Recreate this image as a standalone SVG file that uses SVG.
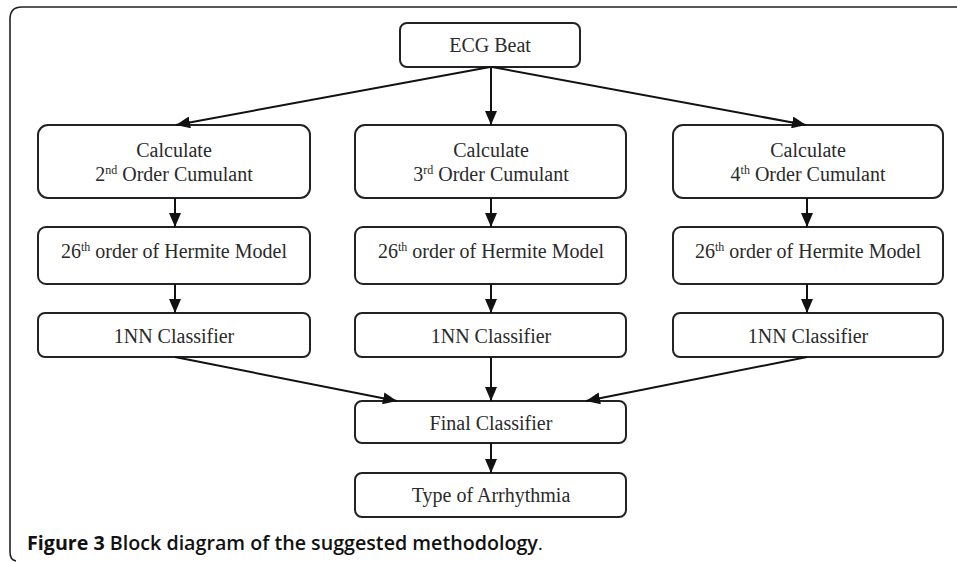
<svg xmlns="http://www.w3.org/2000/svg" width="957" height="562" viewBox="0 0 957 562">
<defs>
<marker id="ah" viewBox="0 0 14 12" refX="14" refY="6" markerWidth="14" markerHeight="12" markerUnits="userSpaceOnUse" orient="auto">
<path d="M0,0 L14,6 L0,12 z" fill="#111"/>
</marker>
<style>
.box{fill:#fff;stroke:#222;stroke-width:2}
.t{font-family:"Liberation Serif","Times New Roman",serif;font-size:20px;fill:#2a2a2a;text-anchor:middle}
.sup{font-size:12px}
.c{stroke:#111;stroke-width:2;fill:none;marker-end:url(#ah)}
.cap{font-family:"Open Sans","Liberation Sans",sans-serif;font-size:19px;fill:#111}
</style>
</defs>
<rect width="957" height="562" fill="#fff"/>
<path d="M957,7 H22 Q10,7 10,19 V552 Q10,560 16,561" fill="none" stroke="#222" stroke-width="1.6"/>

<g id="ecg"><rect class="box" x="400" y="23" width="180" height="44" rx="7"/><text class="t" x="490" y="52">ECG Beat</text></g>

<g id="cum2"><rect class="box" x="38" y="125" width="272" height="73" rx="10"/><text class="t" x="174" y="157">Calculate</text><text class="t" x="174" y="181">2<tspan class="sup" dy="-7">nd</tspan><tspan dy="7"> Order Cumulant</tspan></text></g>
<g id="cum3"><rect class="box" x="355" y="125" width="271" height="73" rx="10"/><text class="t" x="491" y="157">Calculate</text><text class="t" x="491" y="181">3<tspan class="sup" dy="-7">rd</tspan><tspan dy="7"> Order Cumulant</tspan></text></g>
<g id="cum4"><rect class="box" x="673" y="125" width="270" height="73" rx="10"/><text class="t" x="808" y="157">Calculate</text><text class="t" x="808" y="181">4<tspan class="sup" dy="-7">th</tspan><tspan dy="7"> Order Cumulant</tspan></text></g>

<g id="herm1"><rect class="box" x="38" y="227" width="272" height="57" rx="8"/><text class="t" x="174" y="258">26<tspan class="sup" dy="-7">th</tspan><tspan dy="7"> order of Hermite Model</tspan></text></g>
<g id="herm2"><rect class="box" x="355" y="227" width="271" height="57" rx="8"/><text class="t" x="491" y="258">26<tspan class="sup" dy="-7">th</tspan><tspan dy="7"> order of Hermite Model</tspan></text></g>
<g id="herm3"><rect class="box" x="673" y="227" width="270" height="57" rx="8"/><text class="t" x="808" y="258">26<tspan class="sup" dy="-7">th</tspan><tspan dy="7"> order of Hermite Model</tspan></text></g>

<g id="nn1"><rect class="box" x="38" y="313" width="272" height="44" rx="7"/><text class="t" x="174" y="343">1NN Classifier</text></g>
<g id="nn2"><rect class="box" x="355" y="313" width="271" height="44" rx="7"/><text class="t" x="491" y="343">1NN Classifier</text></g>
<g id="nn3"><rect class="box" x="673" y="313" width="270" height="44" rx="7"/><text class="t" x="808" y="343">1NN Classifier</text></g>

<g id="final"><rect class="box" x="355" y="401" width="271" height="42" rx="7"/><text class="t" x="491" y="430">Final Classifier</text></g>
<g id="type"><rect class="box" x="355" y="473" width="271" height="44" rx="7"/><text class="t" x="491" y="502">Type of Arrhythmia</text></g>

<g id="connectors">
<path class="c" d="M490,67 L176,125"/>
<path class="c" d="M491,67 V125"/>
<path class="c" d="M492,67 L806,125"/>
<path class="c" d="M175,198 V227"/>
<path class="c" d="M491,198 V227"/>
<path class="c" d="M807,198 V227"/>
<path class="c" d="M175,284 V313"/>
<path class="c" d="M491,284 V313"/>
<path class="c" d="M807,284 V313"/>
<path class="c" d="M175,357 L397,401"/>
<path class="c" d="M491,357 V401"/>
<path class="c" d="M807,357 L586,401"/>
<path class="c" d="M491,443 V473"/>
</g>

<text class="cap" x="27" y="550" textLength="516" lengthAdjust="spacingAndGlyphs"><tspan font-weight="700">Figure 3</tspan><tspan font-weight="600"> Block diagram of the suggested methodology</tspan><tspan font-weight="400">.</tspan></text>
</svg>
